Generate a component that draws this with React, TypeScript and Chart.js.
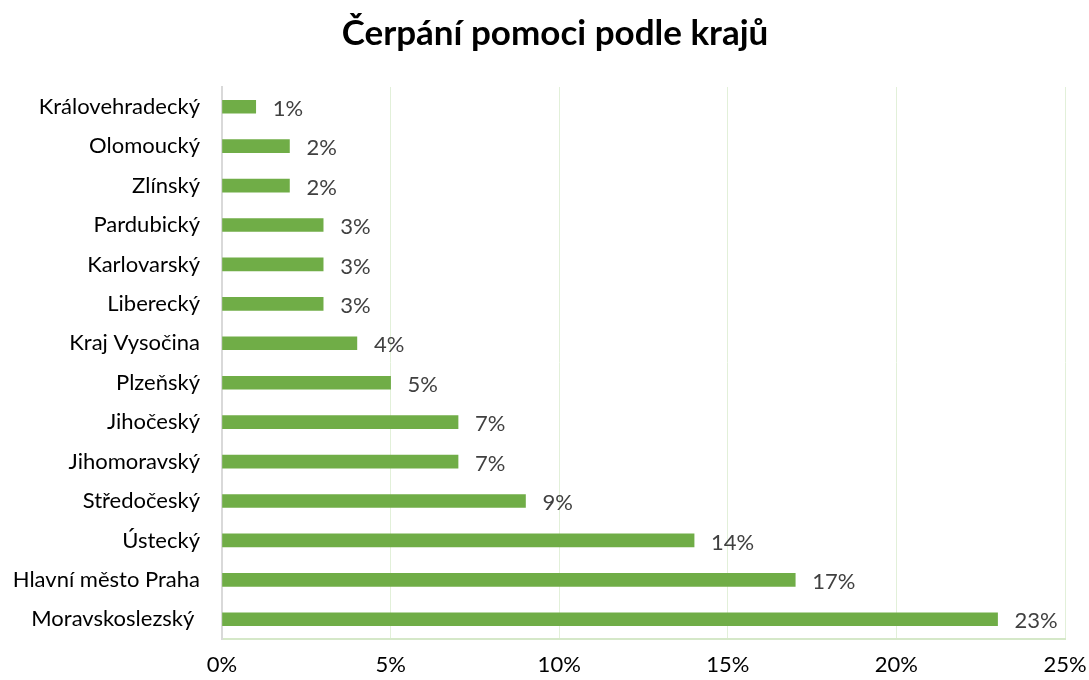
import React, { useEffect, useRef } from "react";
import { Chart, registerables } from "chart.js";

Chart.register(...registerables);

const titleText = "Čerpání pomoci podle krajů";
const regions = [
  "Královehradecký",
  "Olomoucký",
  "Zlínský",
  "Pardubický",
  "Karlovarský",
  "Liberecký",
  "Kraj Vysočina",
  "Plzeňský",
  "Jihočeský",
  "Jihomoravský",
  "Středočeský",
  "Ústecký",
  "Hlavní město Praha",
  "Moravskoslezský ",
];
const shares = [1, 2, 2, 3, 3, 3, 4, 5, 7, 7, 9, 14, 17, 23];
const xTickMin = 0;
const xTickMax = 25;
const xTickStep = 5;

const FONT = "Lato, 'Open Sans', sans-serif";

const dataLabels = {
  id: "dataLabels",
  afterDatasetsDraw(chart: any) {
    const ctx = chart.ctx;
    const meta = chart.getDatasetMeta(0);
    ctx.save();
    ctx.font = `22px ${FONT}`;
    ctx.fillStyle = "#404040";
    ctx.textAlign = "left";
    ctx.textBaseline = "middle";
    meta.data.forEach((bar: any, i: number) => {
      ctx.fillText(`${shares[i]}%`, bar.x + 17, bar.y + 2);
    });
    ctx.restore();
  },
};

const titleDraw = {
  id: "titleDraw",
  afterDraw(chart: any) {
    const ctx = chart.ctx;
    ctx.save();
    ctx.font = `bold 35px ${FONT}`;
    ctx.fillStyle = "#000000";
    ctx.textAlign = "center";
    ctx.textBaseline = "middle";
    ctx.fillText(titleText, 555, 34);
    ctx.restore();
  },
};

export default function App() {
  const ref = useRef<HTMLCanvasElement | null>(null);

  useEffect(() => {
    document.body.style.margin = "0";
    const canvas = ref.current;
    if (!canvas) return;
    const chart = new Chart(canvas, {
      type: "bar",
      data: {
        labels: regions,
        datasets: [
          {
            data: shares,
            backgroundColor: "#70AD47",
            borderWidth: 0,
            barThickness: 13,
          },
        ],
      },
      plugins: [dataLabels, titleDraw],
      options: {
        indexAxis: "y",
        responsive: false,
        animation: false,
        layout: { padding: { left: 0, right: 24, top: 87, bottom: 0 } },
        plugins: {
          legend: { display: false },
          tooltip: { enabled: false },
          title: { display: false },
        },
        scales: {
          x: {
            type: "linear",
            min: xTickMin,
            max: xTickMax,
            ticks: {
              stepSize: xTickStep,
              color: "#000000",
              font: { family: FONT, size: 22 },
              padding: 13,
              callback: (v: any) => `${v}%`,
            },
            grid: {
              drawTicks: false,
              color: (c: any) => (c.index === 0 ? "#d9d9d9" : "#e2f0d9"),
              lineWidth: 1,
            },
            border: { display: true, color: "#d5e8c8", width: 2 },
            afterFit: (scale: any) => {
              scale.height = 41;
              scale.paddingLeft = 0;
              scale.paddingRight = 0;
            },
          },
          y: {
            type: "category",
            ticks: {
              color: "#000000",
              font: { family: FONT, size: 22 },
              padding: 22,
              autoSkip: false,
            },
            grid: { display: false, drawTicks: false },
            border: { display: true, color: "#d9d9d9", width: 2 },
            afterFit: (scale: any) => {
              scale.width = 222;
              scale.paddingTop = 0;
              scale.paddingBottom = 0;
            },
          },
        },
      },
    });
    return () => chart.destroy();
  }, []);

  return (
    <div style={{ width: 1089, height: 680 }}>
      <canvas ref={ref} width={1089} height={680} style={{ display: "block" }} />
    </div>
  );
}
